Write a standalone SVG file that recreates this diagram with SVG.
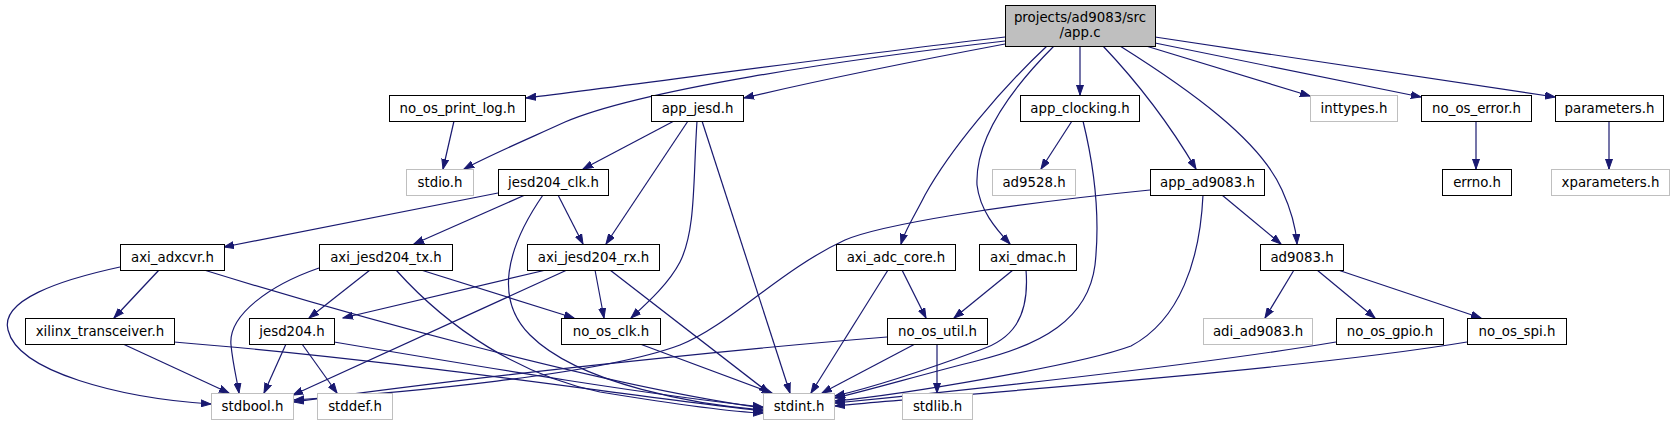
<svg xmlns="http://www.w3.org/2000/svg" width="1673" height="425" viewBox="0 0 1673 425">
<style>
.n rect{fill:#fff;stroke:#000;stroke-width:1}
.x rect{fill:#fff;stroke:#bfbfbf;stroke-width:1}
.m rect{fill:#bfbfbf;stroke:#000;stroke-width:1}
text{font-family:"DejaVu Sans","Liberation Sans",sans-serif;font-size:13.33px;text-anchor:middle;fill:#000}
.e path{fill:none;stroke:#191970;stroke-width:1.2;marker-end:url(#ah)}
</style>
<defs>
<marker id="ah" markerWidth="11" markerHeight="8" refX="10" refY="4" orient="auto" markerUnits="userSpaceOnUse" viewBox="0 0 11 8">
<path d="M0,0.5 L10,4 L0,7.5 z" fill="#191970" stroke="#191970" stroke-width="1"/>
</marker>
</defs>
<rect width="1673" height="425" fill="#fff"/>
<g class="e" id="edges">
<path d="M1005,37 C850,55 640,84 526,98"/>
<path d="M1005,41 C840,60 640,90 565,122 C530,138 490,155 464,169"/>
<path d="M1005,44 C920,60 820,80 744,98"/>
<path d="M1080,46 L1080,95"/>
<path d="M1146,46 L1310,96"/>
<path d="M1155,43 L1421,97"/>
<path d="M1155,37 L1555,97"/>
<path d="M1103,46 C1140,85 1170,125 1196,169"/>
<path d="M1120,46 C1190,90 1260,140 1282,190 C1292,212 1296,228 1297,244"/>
<path d="M1047,46 C1000,90 950,150 925,195 C915,215 905,230 901,244"/>
<path d="M1054,46 C1010,90 975,140 977,185 C980,210 995,228 1010,244"/>
<path d="M454,121 L443,169"/>
<path d="M674,121 L583,169"/>
<path d="M688,121 L606,244"/>
<path d="M697,121 C693,180 696,230 680,262 C668,285 645,305 631,318"/>
<path d="M702,121 L790,393"/>
<path d="M1072,121 L1041,169"/>
<path d="M1083,121 C1095,170 1100,220 1095,265 C1088,320 1040,345 980,360 C920,375 870,390 835,398"/>
<path d="M1476,121 L1476,169"/>
<path d="M1609,121 L1609,169"/>
<path d="M1222,195 L1281,244"/>
<path d="M1150,190 C1000,205 880,225 845,240 C780,270 730,325 680,345 C600,375 400,393 294,400"/>
<path d="M1203,195 C1200,260 1180,320 1131,346 C1080,365 900,395 835,401"/>
<path d="M498,193 L224,247"/>
<path d="M525,195 L414,244"/>
<path d="M558,195 L583,244"/>
<path d="M543,195 C505,250 495,300 530,335 C580,385 700,405 763,410"/>
<path d="M159,270 L114,318"/>
<path d="M120,267 C60,280 0,300 8,330 C18,372 120,398 211,404"/>
<path d="M204,270 C350,315 600,385 763,408"/>
<path d="M319,268 C270,285 228,315 231,345 C233,365 237,380 239,393"/>
<path d="M370,270 L309,318"/>
<path d="M421,270 L574,318"/>
<path d="M396,270 C450,330 520,375 600,392 C680,405 730,412 763,413"/>
<path d="M546,270 L343,318"/>
<path d="M567,270 L293,395"/>
<path d="M595,270 L604,318"/>
<path d="M610,270 L769,393"/>
<path d="M123,344 L229,393"/>
<path d="M174,342 C400,360 620,395 763,411"/>
<path d="M286,344 L264,393"/>
<path d="M302,344 L337,393"/>
<path d="M334,342 C500,370 650,395 763,407"/>
<path d="M640,344 L772,393"/>
<path d="M888,270 L811,393"/>
<path d="M902,270 L926,318"/>
<path d="M1013,270 L954,318"/>
<path d="M1026,270 C1030,320 1010,340 980,350 C920,372 870,388 835,396"/>
<path d="M887,337 C700,352 450,380 294,402"/>
<path d="M915,344 L822,393"/>
<path d="M937,344 L937,393"/>
<path d="M1294,270 L1265,318"/>
<path d="M1317,270 L1375,318"/>
<path d="M1338,270 L1481,318"/>
<path d="M1336,342 C1200,365 950,392 835,403"/>
<path d="M1467,342 C1300,370 950,395 835,406"/>
</g>
<g id="node_app_c" class="m"><rect x="1005.5" y="5.5" width="150" height="41"/><text x="1080" y="22">projects/ad9083/src</text><text x="1080" y="37">/app.c</text></g>
<g id="node_no_os_print_log" class="n"><rect x="389.5" y="95.5" width="136" height="26"/><text x="457.5" y="113">no_os_print_log.h</text></g>
<g id="node_app_jesd" class="n"><rect x="651.5" y="95.5" width="92" height="26"/><text x="697.5" y="113">app_jesd.h</text></g>
<g id="node_app_clocking" class="n"><rect x="1020.5" y="95.5" width="119" height="26"/><text x="1080" y="113">app_clocking.h</text></g>
<g id="node_inttypes" class="x"><rect x="1310.5" y="95.5" width="87" height="26"/><text x="1354" y="113">inttypes.h</text></g>
<g id="node_no_os_error" class="n"><rect x="1421.5" y="95.5" width="110" height="26"/><text x="1476.5" y="113">no_os_error.h</text></g>
<g id="node_parameters" class="n"><rect x="1555.5" y="95.5" width="108" height="26"/><text x="1609.5" y="113">parameters.h</text></g>
<g id="node_stdio" class="x"><rect x="406.5" y="169.5" width="67" height="26"/><text x="440" y="187">stdio.h</text></g>
<g id="node_jesd204_clk" class="n"><rect x="498.5" y="169.5" width="110" height="26"/><text x="553.5" y="187">jesd204_clk.h</text></g>
<g id="node_ad9528" class="x"><rect x="992.5" y="169.5" width="83" height="26"/><text x="1034" y="187">ad9528.h</text></g>
<g id="node_app_ad9083" class="n"><rect x="1150.5" y="169.5" width="114" height="26"/><text x="1207.5" y="187">app_ad9083.h</text></g>
<g id="node_errno" class="n"><rect x="1442.5" y="169.5" width="69" height="26"/><text x="1477" y="187">errno.h</text></g>
<g id="node_xparameters" class="x"><rect x="1551.5" y="169.5" width="118" height="26"/><text x="1610.5" y="187">xparameters.h</text></g>
<g id="node_axi_adxcvr" class="n"><rect x="120.5" y="244.5" width="104" height="26"/><text x="172.5" y="262">axi_adxcvr.h</text></g>
<g id="node_axi_jesd204_tx" class="n"><rect x="319.5" y="244.5" width="133" height="26"/><text x="386" y="262">axi_jesd204_tx.h</text></g>
<g id="node_axi_jesd204_rx" class="n"><rect x="527.5" y="244.5" width="132" height="26"/><text x="593.5" y="262">axi_jesd204_rx.h</text></g>
<g id="node_axi_adc_core" class="n"><rect x="836.5" y="244.5" width="119" height="26"/><text x="896" y="262">axi_adc_core.h</text></g>
<g id="node_axi_dmac" class="n"><rect x="979.5" y="244.5" width="97" height="26"/><text x="1028" y="262">axi_dmac.h</text></g>
<g id="node_ad9083" class="n"><rect x="1260.5" y="244.5" width="83" height="26"/><text x="1302" y="262">ad9083.h</text></g>
<g id="node_xilinx_transceiver" class="n"><rect x="25.5" y="318.5" width="149" height="26"/><text x="100" y="336">xilinx_transceiver.h</text></g>
<g id="node_jesd204" class="n"><rect x="249.5" y="318.5" width="85" height="26"/><text x="292" y="336">jesd204.h</text></g>
<g id="node_no_os_clk" class="n"><rect x="561.5" y="318.5" width="99" height="26"/><text x="611" y="336">no_os_clk.h</text></g>
<g id="node_no_os_util" class="n"><rect x="887.5" y="318.5" width="100" height="26"/><text x="937.5" y="336">no_os_util.h</text></g>
<g id="node_adi_ad9083" class="x"><rect x="1203.5" y="318.5" width="109" height="26"/><text x="1258" y="336">adi_ad9083.h</text></g>
<g id="node_no_os_gpio" class="n"><rect x="1336.5" y="318.5" width="107" height="26"/><text x="1390" y="336">no_os_gpio.h</text></g>
<g id="node_no_os_spi" class="n"><rect x="1467.5" y="318.5" width="99" height="26"/><text x="1517" y="336">no_os_spi.h</text></g>
<g id="node_stdbool" class="x"><rect x="211.5" y="393.5" width="82" height="26"/><text x="252.5" y="411">stdbool.h</text></g>
<g id="node_stddef" class="x"><rect x="317.5" y="393.5" width="75" height="26"/><text x="355" y="411">stddef.h</text></g>
<g id="node_stdint" class="x"><rect x="763.5" y="393.5" width="71" height="26"/><text x="799" y="411">stdint.h</text></g>
<g id="node_stdlib" class="x"><rect x="902.5" y="393.5" width="70" height="26"/><text x="937.5" y="411">stdlib.h</text></g>
</svg>
